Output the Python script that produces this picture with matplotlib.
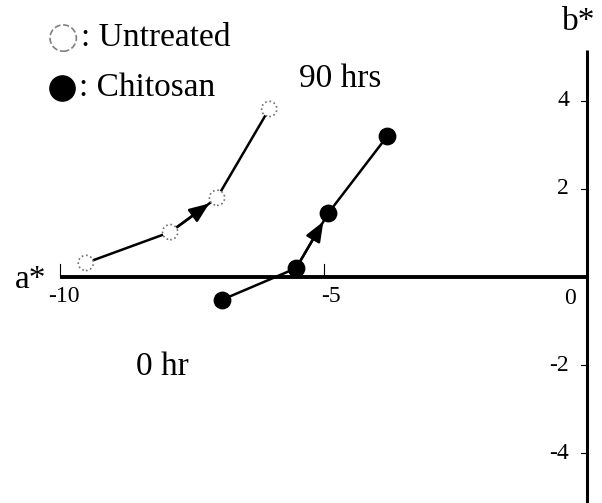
import matplotlib
matplotlib.use("Agg")
import matplotlib.pyplot as plt

plt.rcParams['font.family'] = ['Liberation Serif', 'DejaVu Serif']

# a*, b* values
untreated_a = [-9.51, -7.91, -7.02, -6.03]
untreated_b = [0.32, 1.02, 1.80, 3.82]
chitosan_a = [-6.93, -5.52, -4.91, -3.79]
chitosan_b = [-0.52, 0.20, 1.45, 3.20]

a_ticks = [-10, -5]
b_ticks = [4, 2, -2, -4]

fig = plt.figure(figsize=(6.02, 5.03), dpi=100)
ax = fig.add_axes([0, 0, 1, 1])
ax.set_xlim(-11.139, 0.285)
ax.set_ylim(-5.136, 6.295)
ax.axis('off')

# axes drawn by hand, crossing at (0, 0)
ax.plot([-10, 0], [0, 0], color='black', lw=2.8, solid_capstyle='butt')
ax.plot([0, 0], [-5.2, 5.16], color='black', lw=2.2, solid_capstyle='butt')

for t in a_ticks:
    ax.plot([t, t], [0, 0.3], color='black', lw=0.8)
    ax.annotate(str(t), (t, 0), xytext=(4 if t == -10 else 7, -9),
                textcoords='offset pixels', ha='center', va='top', fontsize=17)
ax.annotate('0', (0, 0), xytext=(-17, -11), textcoords='offset pixels',
            ha='center', va='top', fontsize=17)

for t in b_ticks:
    ax.plot([-0.12, 0], [t, t], color='black', lw=0.8)
    ax.annotate(str(t), (0, t), xytext=(-18, 0), textcoords='offset pixels',
                ha='right', va='center', fontsize=17)

ax.text(-10.85, -0.25, 'a*', fontsize=24, ha='left', va='baseline')
ax.text(-0.47, 5.61, 'b*', fontsize=24, ha='left', va='baseline')

# series
ax.plot(untreated_a, untreated_b, color='black', lw=1.8, zorder=2)
ax.plot(chitosan_a, chitosan_b, color='black', lw=1.8, zorder=2)
ax.scatter(untreated_a, untreated_b, s=120, facecolor='white', edgecolor='#707070',
           linewidths=1.2, linestyles=':', zorder=3)
ax.scatter(chitosan_a, chitosan_b, s=140, color='black', zorder=3)

# arrows on the middle segment
for xs, ys in [(untreated_a, untreated_b), (chitosan_a, chitosan_b)]:
    ax.annotate('', xy=(xs[2], ys[2]), xytext=(xs[1], ys[1]),
                arrowprops=dict(arrowstyle='-|>,head_length=0.8,head_width=0.32',
                                mutation_scale=15, color='black', lw=1.8,
                                shrinkA=6, shrinkB=7), zorder=2)

# legend drawn as text
ax.scatter([-9.94], [5.43], s=360, facecolor='white', edgecolor='#808080',
           linewidths=1.2, linestyles='--')
ax.text(-9.6, 5.43, ': Untreated', fontsize=24, ha='left', va='center')
ax.scatter([-9.96], [4.30], s=330, color='black')
ax.text(-9.64, 4.30, ': Chitosan', fontsize=24, ha='left', va='center')

ax.text(-4.69, 4.32, '90 hrs', fontsize=24, ha='center', va='baseline')
ax.text(-8.05, -2.23, '0 hr', fontsize=24, ha='center', va='baseline')

fig.savefig('out.png', dpi=100)
